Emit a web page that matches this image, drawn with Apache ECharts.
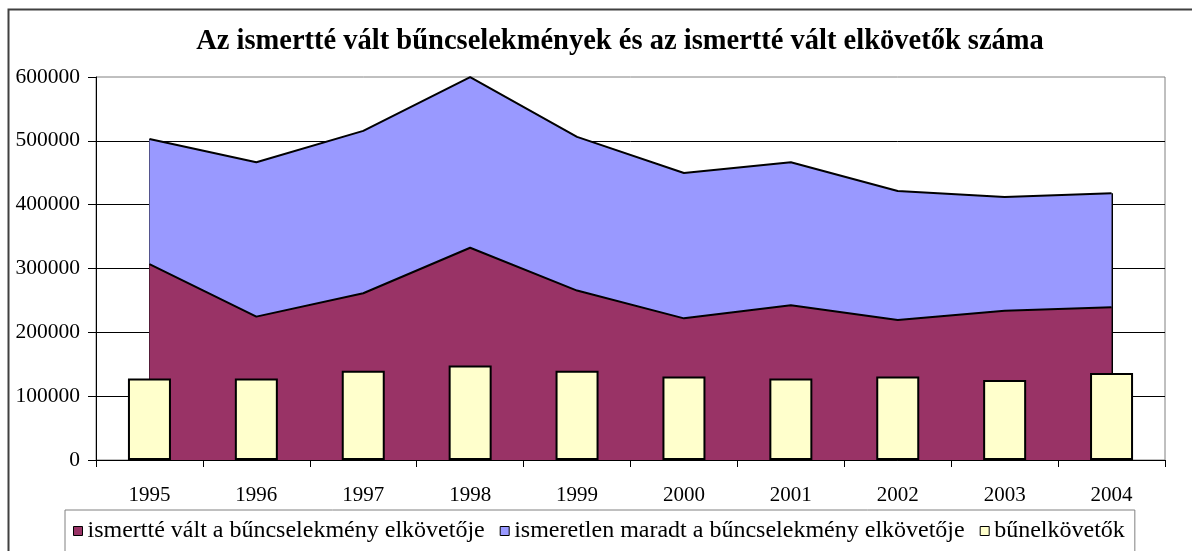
<!DOCTYPE html>
<html>
<head>
<meta charset="utf-8">
<title>Az ismertté vált bűncselekmények és az ismertté vált elkövetők száma</title>
<script src="https://cdn.jsdelivr.net/npm/echarts@6/dist/echarts.min.js"></script>
<style>
  html, body { margin: 0; padding: 0; background: #fff; }
  #chart { width: 1192px; height: 551px; }
</style>
</head>
<body>
<div id="chart"></div>
<script>
// évek
const years = ['1995', '1996', '1997', '1998', '1999', '2000', '2001', '2002', '2003', '2004']
// ismertté vált a bűncselekmény elkövetője
const ismert = [307000, 224600, 261200, 332500, 265400, 221900, 242400, 219400, 234000, 239200]
// ismeretlen maradt a bűncselekmény elkövetője
const ismeretlen = [196000, 241900, 254400, 267400, 240800, 227800, 224100, 202000, 178000, 178800]
// bűnelkövetők
const elkovetok = [127700, 127700, 139800, 148100, 139800, 130800, 127700, 130800, 125200, 136200]

const seriesNames = [
  'ismertté vált a bűncselekmény elkövetője',
  'ismeretlen maradt a bűncselekmény elkövetője',
  'bűnelkövetők'
]
const colors = ['#993366', '#9999FF', '#FFFFCC']

const serif = '"Liberation Serif", "Times New Roman", serif'

let total = ismert.map(function (v, i) {
  return v + ismeretlen[i]
})
let first = 0
let last = years.length - 1

let myChart = echarts.init(document.getElementById('chart'))

let option = {
  animation: false,
  title: {
    text: 'Az ismertté vált bűncselekmények és az ismertté vált elkövetők száma',
    left: 615,
    textAlign: 'center',
    top: 22,
    textStyle: {
      fontFamily: serif,
      fontWeight: 'bold',
      fontSize: 28.5,
      color: '#000'
    }
  },
  graphic: [{
    type: 'rect',
    shape: {x: 8.5, y: 9.5, width: 1250, height: 600},
    style: {fill: null, stroke: '#404040', lineWidth: 2},
    silent: true
  }],
  legend: {
    left: 65,
    top: 510,
    padding: [9, 10, 12, 8],
    itemGap: 15,
    itemTextGap: 6,
    itemWidth: 9,
    itemHeight: 9,
    borderColor: '#808080',
    borderWidth: 1,
    backgroundColor: '#fff',
    icon: 'rect',
    itemStyle: {borderColor: '#000', borderWidth: 1},
    textStyle: {fontFamily: serif, fontSize: 24, color: '#000'},
    data: seriesNames.map(function (n, i) {
      return {name: n, itemStyle: {color: colors[i], borderColor: '#000', borderWidth: 1}}
    })
  },
  grid: {
    left: 96,
    right: 27,
    top: 77,
    bottom: 91,
    show: true,
    borderColor: '#808080',
    borderWidth: 1,
    backgroundColor: 'transparent'
  },
  xAxis: {
    type: 'category',
    data: years,
    boundaryGap: true,
    axisLine: {lineStyle: {color: '#000', width: 1}},
    axisTick: {show: true, length: 7, inside: false, lineStyle: {color: '#000'}},
    axisLabel: {fontFamily: serif, fontSize: 21, color: '#000', margin: 25}
  },
  yAxis: {
    type: 'value',
    min: 0,
    max: 600000,
    interval: 100000,
    axisLine: {show: true, lineStyle: {color: '#000', width: 1}},
    axisTick: {show: true, length: 8, lineStyle: {color: '#000'}},
    axisLabel: {
      fontFamily: serif,
      fontSize: 21.5,
      color: '#000',
      margin: 16,
      formatter: function (value) {
        return String(value)
      }
    },
    splitLine: {show: true, showMinLine: false, showMaxLine: false, lineStyle: {color: '#000', width: 1}}
  },
  series: [
    {
      name: seriesNames[0],
      type: 'line',
      stack: 'osszes',
      data: ismert,
      symbol: 'none',
      color: colors[0],
      lineStyle: {color: '#000', width: 2},
      areaStyle: {color: colors[0], opacity: 1},
      z: 2
    },
    {
      name: seriesNames[1],
      type: 'line',
      stack: 'osszes',
      data: ismeretlen,
      symbol: 'none',
      color: colors[1],
      lineStyle: {color: '#000', width: 2},
      areaStyle: {color: colors[1], opacity: 1},
      z: 2,
      // a terület két függőleges széle
      markLine: {
        silent: true,
        z: 2,
        symbol: 'none',
        label: {show: false},
        lineStyle: {color: '#000', width: 2, type: 'solid'},
        data: [
          [{coord: [years[first], 0]}, {coord: [years[first], total[first]]}],
          [{coord: [years[last], 0]}, {coord: [years[last], total[last]]}]
        ]
      }
    },
    {
      name: seriesNames[2],
      type: 'bar',
      data: elkovetok,
      barWidth: 43,
      itemStyle: {color: colors[2], borderColor: '#000', borderWidth: 2},
      z: 10
    }
  ]
}

myChart.setOption(option)
</script>
</body>
</html>
